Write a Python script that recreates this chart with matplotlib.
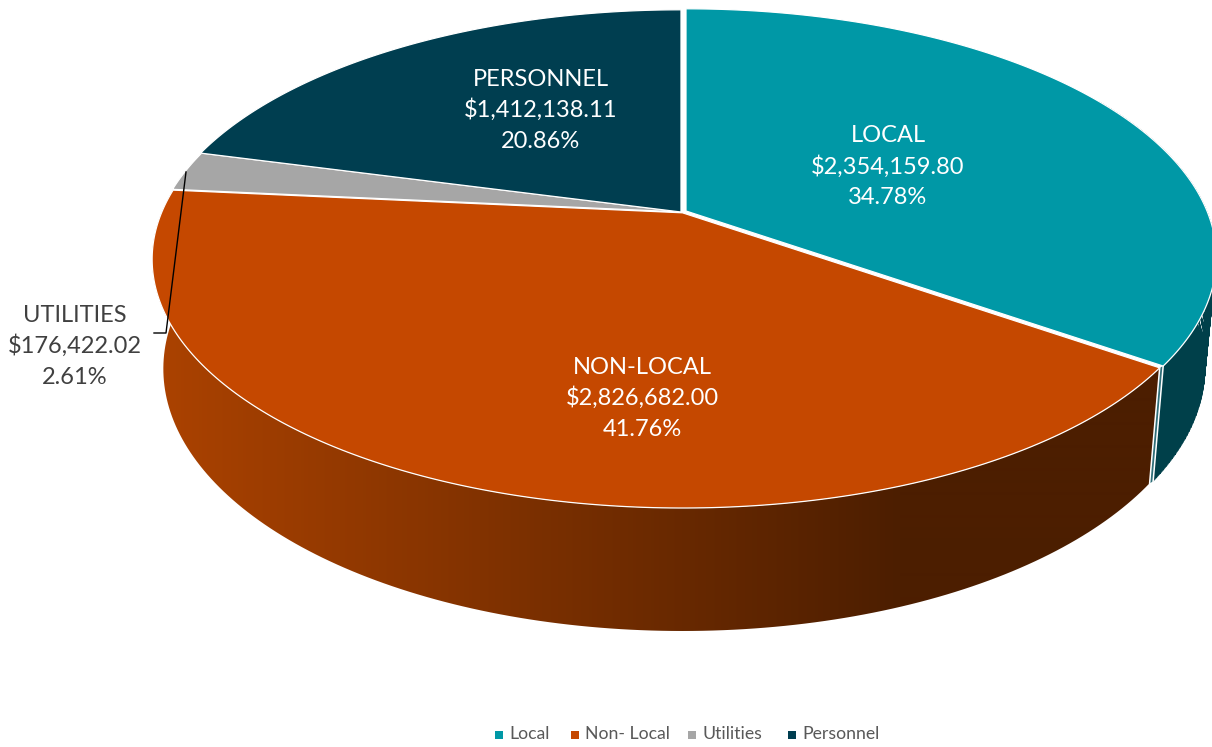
import matplotlib
matplotlib.use("Agg")
import matplotlib.pyplot as plt
from matplotlib.colors import to_rgb
from matplotlib.patches import PathPatch
from matplotlib.path import Path
import numpy as np

categories = ["Local", "Non-Local", "Utilities", "Personnel"]
legend_labels = ["Local", "Non- Local", "Utilities", "Personnel"]
amounts = [2354159.80, 2826682.00, 176422.02, 1412138.11]

colors = ["#0098A6", "#C54800", "#A6A6A6", "#003E50"]
# label centre (middle line) in image pixels
label_pos = [(888, 167), (642, 398), (74.5, 346), (541, 110)]
label_color = ["white", "white", "#404040", "white"]
# small shift of each slice away from the centre
shift = [(3.0, -1.0), (-0.5, 0.8), (-1.0, 0.0), (-2.0, 0.0)]

legend_marker_x = [499, 575, 692, 792]
legend_text_x = [509, 585, 703, 802]

W, H = 1212, 747
TILT = 0.187


def project(theta, cx, cy, a, b):
    # clockwise angle from 12 o'clock on a tilted disc, to image pixels
    x, y = np.sin(theta), np.cos(theta)
    w = 1 + TILT * y
    return cx + a * x / w, cy - b * y / w


def top_rim(theta):
    return project(theta, 683, 212, 521, 240)


def low_rim(theta):
    return project(theta, 683, 319, 510, 253)


def side_path(theta, offset):
    # the wall as one path of same-way-round quads, so it fills as their union
    tx, ty = top_rim(theta)
    lx, ly = low_rim(theta)
    verts, codes = [], []
    for i in range(len(theta) - 1):
        verts += [(tx[i], ty[i]), (tx[i + 1], ty[i + 1]), (lx[i + 1], ly[i + 1]), (lx[i], ly[i]), (tx[i], ty[i])]
        codes += [Path.MOVETO, Path.LINETO, Path.LINETO, Path.LINETO, Path.CLOSEPOLY]
    return Path(np.array(verts) + offset, codes)


fig = plt.figure(figsize=(W / 100, H / 100), dpi=100)
ax = fig.add_axes([0, 0, 1, 1])
plt.rcParams["font.family"] = ["Lato", "DejaVu Sans"]

values = np.array(amounts)
pct = values / values.sum() * 100
edges = np.concatenate([[0], np.cumsum(values) / values.sum() * 2 * np.pi])

# side wall of the Local slice, only its front part shows
th = np.linspace(np.radians(60), edges[1], 80)
ax.add_patch(PathPatch(side_path(th, shift[0]), facecolor="#00404A", edgecolor="#00404A", lw=0.3))

# side wall of the Non-Local slice, with the dark gradient
th = np.linspace(edges[1], edges[2], 160)
wall = PathPatch(side_path(th, shift[1]), facecolor="none", edgecolor="none")
ax.add_patch(wall)
c0, c1 = np.array(to_rgb("#AB4200")), np.array(to_rgb("#4C1E00"))
t = np.clip((np.arange(W) - 160) / (900 - 160), 0, 1)[None, :, None]
im = ax.imshow(c0 + (c1 - c0) * t, extent=(0, W, H, 0), aspect="auto", interpolation="bilinear")
im.set_clip_path(wall)

# cut face sliver between the two side walls
a = edges[1]
ax1, ay1 = top_rim(a)
bx1, by1 = low_rim(a)
d0, d1 = shift[0], shift[1]
ax.fill([ax1 + d1[0], ax1 + d0[0], bx1 + d0[0], bx1 + d1[0]],
        [ay1 + d1[1], ay1 + d0[1], by1 + d0[1], by1 + d1[1]], color="#2F6E78", lw=0, zorder=2)
ax.plot([ax1 + d1[0], bx1 + d1[0]], [ay1 + d1[1], by1 + d1[1]], color="white", lw=1.1, zorder=2)
ax.plot([ax1 + d0[0], bx1 + d0[0]], [ay1 + d0[1], by1 + d0[1]], color="white", lw=1.1, zorder=2)

# top faces
for i in range(len(values)):
    th = np.linspace(edges[i], edges[i + 1], 200)
    x, y = top_rim(th)
    dx, dy = shift[i]
    ax.fill(np.r_[683, x] + dx, np.r_[212, y] + dy, facecolor=colors[i], edgecolor="white",
            lw=0.9, joinstyle="round", zorder=3)

# leader line for the small slice
ax.plot([186, 166, 154], [172, 333, 333], color="black", lw=1.0, zorder=4)

for i, name in enumerate(categories):
    lines = [name.upper(), f"${values[i]:,.2f}", f"{pct[i]:.2f}%"]
    cx, cy = label_pos[i]
    for j, line in enumerate(lines):
        ax.text(cx, cy + (j - 1) * 31, line, color=label_color[i], fontsize=17,
                ha="center", va="center", zorder=5)

for i, name in enumerate(legend_labels):
    ax.scatter([legend_marker_x[i]], [735], marker="s", s=28, color=colors[i], lw=0)
    ax.text(legend_text_x[i], 734, name, color="#595959", fontsize=12.7, ha="left", va="center")

ax.set_xlim(0, W)
ax.set_ylim(H, 0)
ax.axis("off")

fig.savefig("out.png", dpi=100)
plt.close(fig)
